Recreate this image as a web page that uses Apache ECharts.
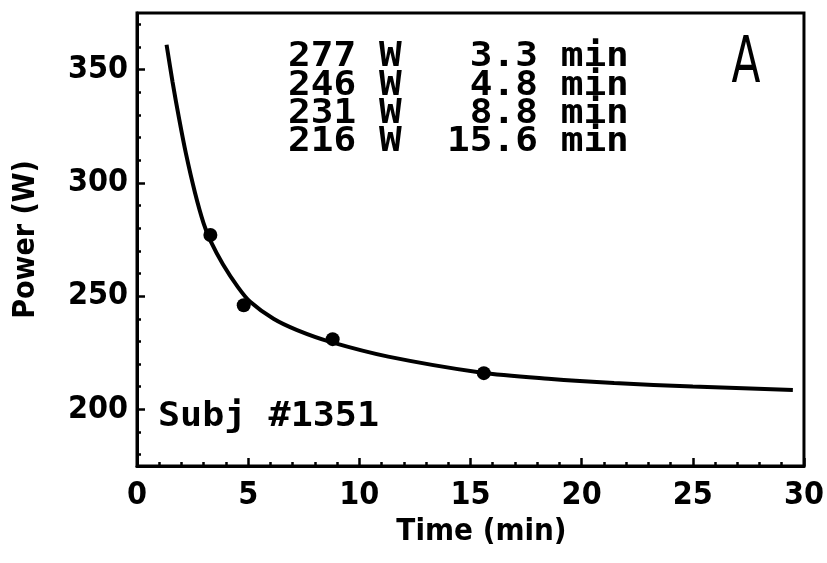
<!DOCTYPE html>
<html><head><meta charset="utf-8">
<script src="https://cdn.jsdelivr.net/npm/echarts@6/dist/echarts.min.js"></script>
<style>html,body{margin:0;padding:0;background:#fff}#c{width:827px;height:563px}</style>
</head><body><div id="c"></div>
<script>
// Measured points
const pointTime = [3.3, 4.8, 8.8, 15.6];
const pointPower = [277, 246, 231, 216];
// Fitted curve
const fitTime = [1.33, 1.6, 1.9, 2.2, 2.6, 3.0, 3.3, 3.87, 4.54, 5.09, 6.14, 7.2, 8.7, 11.3, 15.45, 18.5, 21.46, 25.0, 29.5];
const fitPower = [361, 344.5, 328, 313, 296, 282, 274.5, 264, 254, 247.5, 240, 235, 229.8, 223.3, 216.3, 213.5, 211.6, 210.1, 208.6];
// Ticks
const xMin = 0, xMax = 30, xStep = 5;
const yMin = 175, yMax = 375;
const yLabelTicks = [200, 250, 300, 350];
const yMinorTicks = [180, 190, 210, 220, 230, 240, 260, 270, 280, 290, 310, 320, 330, 340, 360, 370];
const xTitle = 'Time (min)';
const yTitle = 'Power (W)';
const subjectLabel = 'Subj #1351';
const panelLabel = 'A';

const chart = echarts.init(document.getElementById('c'), null, {renderer: 'canvas'});
const tickFont = {fontFamily: '"DejaVu Sans Condensed", sans-serif', fontWeight: 'bold', fontSize: 32, color: '#000'};
const titleFont = {fontFamily: '"DejaVu Sans Condensed", sans-serif', fontWeight: 'bold', color: '#000'};
const monoFont = 'bold 34px "DejaVu Sans Mono", monospace';

const rows = pointPower.map((p, i) => p + ' W  ' + pointTime[i].toFixed(1).padStart(4, ' ') + ' min');

const graphics = rows.map((r, i) => ({
  type: 'text', x: 288, y: 57.5 + i * 28.33, scaleX: 1.11, z: 10,
  style: {text: r, font: monoFont, fill: '#000', textAlign: 'left', textVerticalAlign: 'middle', align: 'left', verticalAlign: 'middle'}
}));
graphics.push({
  type: 'text', x: 158, y: 417.5, scaleX: 1.08, z: 10,
  style: {text: subjectLabel, font: monoFont, fill: '#000', textAlign: 'left', textVerticalAlign: 'middle', align: 'left', verticalAlign: 'middle'}
});
graphics.push({
  type: 'text', x: 746, y: 65.5, scaleX: 0.66, z: 10,
  style: {text: panelLabel, font: 'normal 64px "DejaVu Sans"', fill: '#000', textAlign: 'center', textVerticalAlign: 'middle', align: 'center', verticalAlign: 'middle'}
});

chart.setOption({
  backgroundColor: '#fff',
  animation: false,
  grid: {left: 137, right: 21, top: 13, bottom: 97, show: true, borderColor: '#000', borderWidth: 3, backgroundColor: 'transparent'},
  xAxis: {
    type: 'value', min: xMin, max: xMax, interval: xStep,
    name: xTitle, nameLocation: 'middle', nameGap: 48,
    nameTextStyle: Object.assign({fontSize: 31, padding: [0, 0, 0, 22]}, titleFont),
    axisLine: {lineStyle: {color: '#000', width: 3}},
    axisTick: {inside: true, length: 8, lineStyle: {color: '#000', width: 2.5}},
    minorTick: {show: true, splitNumber: 5, length: 4, lineStyle: {color: '#000', width: 2.5}},
    axisLabel: Object.assign({margin: 14}, tickFont),
    splitLine: {show: false}
  },
  yAxis: [{
    type: 'value', min: yMin, max: yMax,
    name: yTitle, nameLocation: 'middle', nameGap: 96, nameRotate: 90,
    nameTextStyle: Object.assign({fontSize: 30}, titleFont),
    axisLine: {lineStyle: {color: '#000', width: 3}},
    axisTick: {inside: true, length: 8, customValues: yLabelTicks, lineStyle: {color: '#000', width: 2.5}},
    axisLabel: Object.assign({margin: 9, customValues: yLabelTicks}, tickFont),
    splitLine: {show: false}
  }, {
    type: 'value', min: yMin, max: yMax, position: 'left',
    axisLine: {show: false},
    axisTick: {inside: true, length: 4, customValues: yMinorTicks, lineStyle: {color: '#000', width: 2.5}},
    axisLabel: {show: false},
    splitLine: {show: false}
  }],
  series: [{
    type: 'line', name: 'fit', data: fitTime.map((t, i) => [t, fitPower[i]]),
    showSymbol: false, smooth: 0.3, lineStyle: {color: '#000', width: 4}, z: 2
  }, {
    type: 'scatter', name: 'measured', data: pointTime.map((t, i) => [t, pointPower[i]]),
    symbol: 'circle', symbolSize: 14, itemStyle: {color: '#000', opacity: 1}, z: 3
  }],
  graphic: graphics
});
</script></body></html>
